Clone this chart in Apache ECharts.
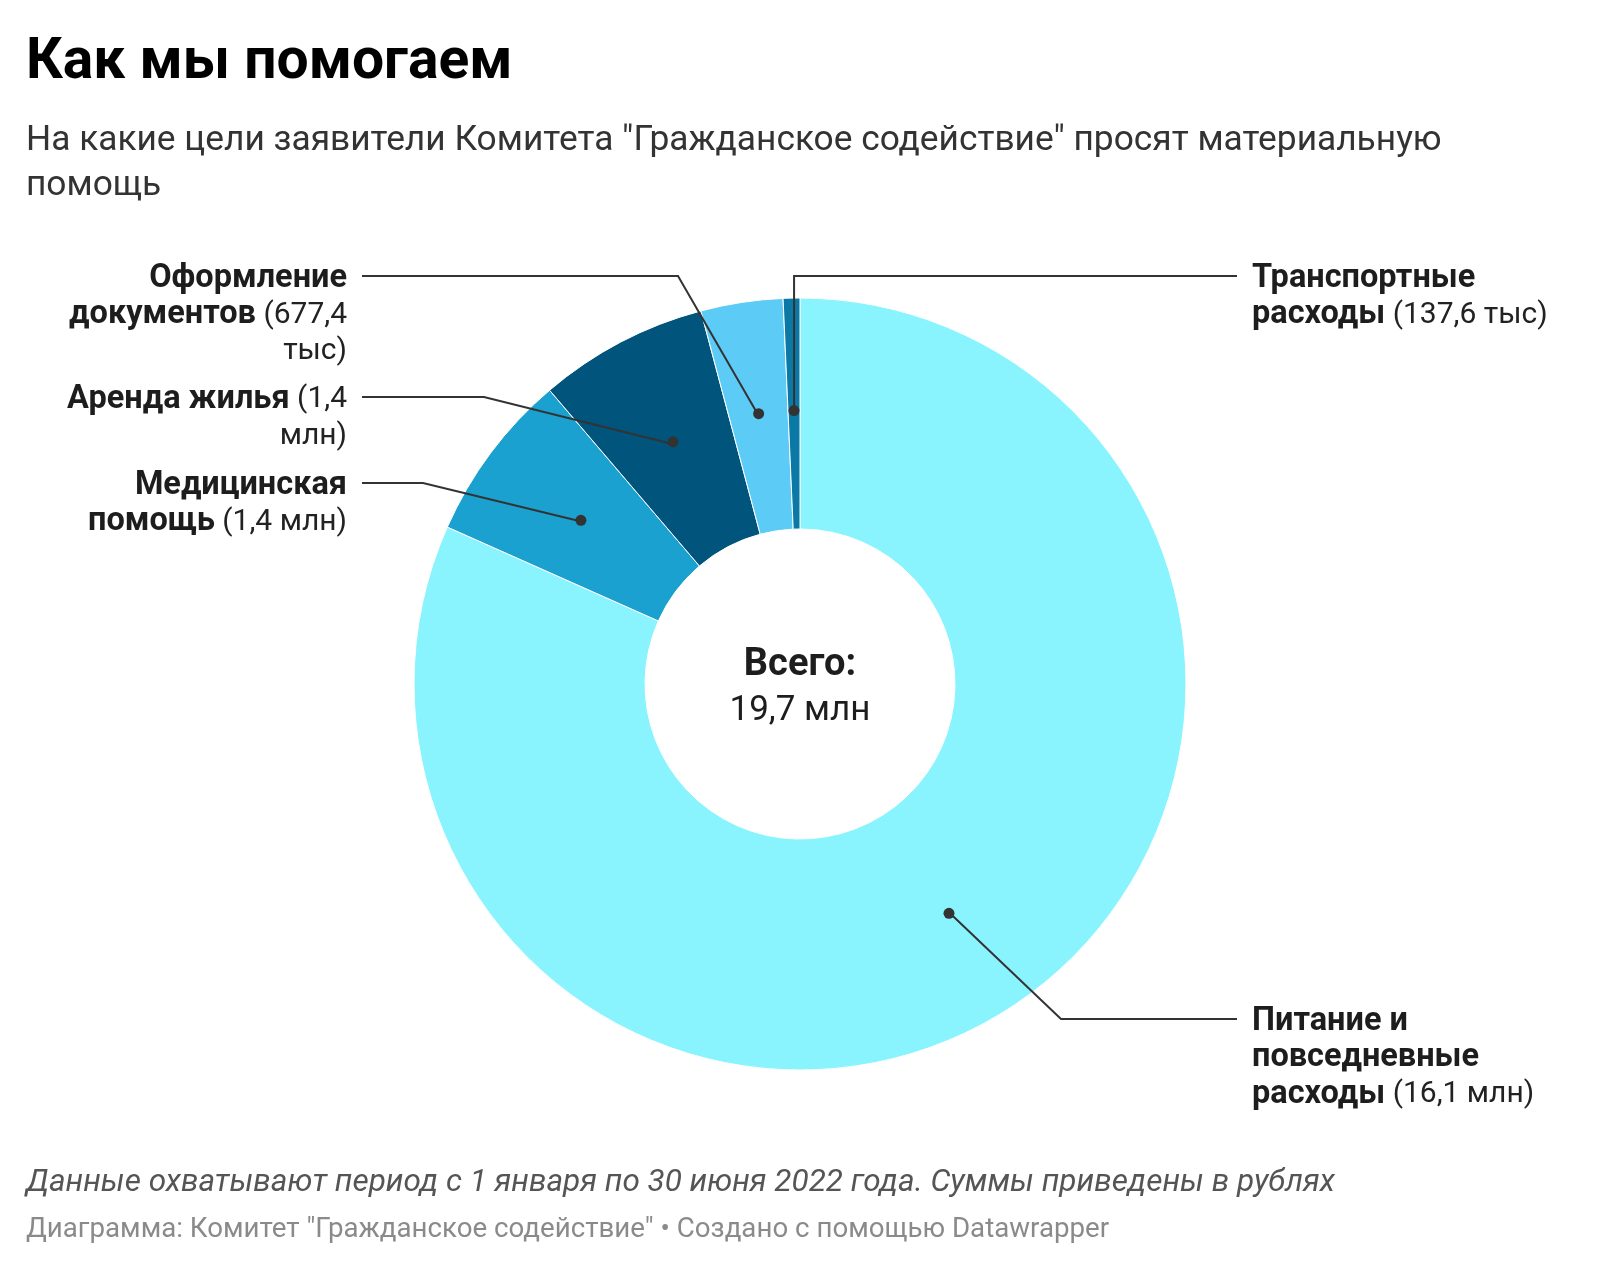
<!DOCTYPE html>
<html><head><meta charset="utf-8">
<script src="https://cdn.jsdelivr.net/npm/echarts@6/dist/echarts.min.js"></script>
<style>html,body{margin:0;padding:0;background:#fff}#c{width:1600px;height:1270px}</style>
</head><body><div id="c"></div>
<script>
// ---- data ----
const categories = ['Питание и повседневные расходы', 'Медицинская помощь', 'Аренда жилья', 'Оформление документов', 'Транспортные расходы'];
const values = [16100000, 1400000, 1400000, 677400, 137600];
const valueLabels = ['16,1 млн', '1,4 млн', '1,4 млн', '677,4 тыс', '137,6 тыс'];
const colors = ['#89f4fe', '#1aa1cf', '#01547b', '#5ccbf6', '#0a79a5'];

// ---- layout ----
const FONT = 'Roboto, "Noto Sans", sans-serif';
const CX = 800, CY = 684, R0 = 155, R1 = 386, RMID = (R0 + R1) / 2;
const LABEL_FS_B = 32.5, LABEL_FS_R = 30, LABEL_LH = 36.5, LABEL_DY = 2.5;
const labelLayoutCfg = [
  {side: 'right', y: 1019, elbow: [1061, 1019]},
  {side: 'left', y: 483, elbow: [423, 483]},
  {side: 'left', y: 397, elbow: [484, 397]},
  {side: 'left', y: 276, elbow: [678, 276]},
  {side: 'right', y: 276, elbow: 'vertical'}
];
const LEFT_TEXT_X = 347, RIGHT_TEXT_X = 1252, LEFT_LINE_END = 362, RIGHT_LINE_END = 1237;
const WRAP_W = {left: 310, right: 320};

const total = values.reduce((a, b) => a + b, 0);
const totalLabel = (total / 1e6).toFixed(1).replace('.', ',') + ' млн';

const labelRich = {
  b: {fontFamily: FONT, fontSize: LABEL_FS_B, fontWeight: 'bold', fill: '#1d1d1d', color: '#1d1d1d', lineHeight: LABEL_LH},
  v: {fontFamily: FONT, fontSize: LABEL_FS_R, fontWeight: 'normal', fill: '#222', color: '#222', lineHeight: LABEL_LH}
};

const measure = document.createElement('canvas').getContext('2d');
function wrapLabel(i) {
  const words = categories[i].split(' ').map(t => ({t, s: 'b'}))
    .concat(('(' + valueLabels[i] + ')').split(' ').map(t => ({t, s: 'v'})));
  const maxW = WRAP_W[labelLayoutCfg[i].side];
  const width = ws => {
    let w = 0;
    ws.forEach((x, k) => {
      measure.font = x.s === 'b' ? 'bold ' + LABEL_FS_B + 'px ' + FONT : LABEL_FS_R + 'px ' + FONT;
      w += measure.measureText((k ? ' ' : '') + x.t).width;
    });
    return w;
  };
  const lines = [];
  let cur = [];
  words.forEach(w => {
    if (cur.length && width(cur.concat([w])) > maxW) { lines.push(cur); cur = []; }
    cur.push(w);
  });
  if (cur.length) lines.push(cur);
  return lines.map(line => {
    const parts = [];
    line.forEach(w => {
      const last = parts[parts.length - 1];
      if (last && last.s === w.s) last.t += ' ' + w.t; else parts.push({t: w.t, s: w.s});
    });
    return parts.map(p => '{' + p.s + '|' + p.t + '}').join('{v| }');
  }).join('\n');
}

const cum = [];
values.reduce((acc, v, i) => { cum[i] = acc; return acc + v; }, 0);

const chart = echarts.init(document.getElementById('c'), null, {renderer: 'canvas'});
chart.setOption({
  animation: false,
  title: [
    {text: 'Как мы помогаем', left: 26, top: 35, padding: 0,
     textStyle: {fontFamily: FONT, fontSize: 57, fontWeight: 'bold', color: '#000'}},
    {text: 'На какие цели заявители Комитета "Гражданское содействие" просят материальную\nпомощь',
     left: 26, top: 119, padding: 0,
     textStyle: {fontFamily: FONT, fontSize: 35.3, fontWeight: 'normal', color: '#333', lineHeight: 45}},
    {text: '{a|Всего:}\n{b|' + totalLabel + '}', left: 'center', top: 642, padding: 0,
     textStyle: {rich: {
       a: {fontFamily: FONT, fontSize: 38, fontWeight: 'bold', color: '#1d1d1d', lineHeight: 46, align: 'center'},
       b: {fontFamily: FONT, fontSize: 35, fontWeight: 'normal', color: '#1d1d1d', lineHeight: 46, align: 'center'}}}},
    {text: 'Данные охватывают период с 1 января по 30 июня 2022 года. Суммы приведены в рублях',
     left: 26, top: 1167, padding: 0,
     textStyle: {fontFamily: FONT, fontSize: 31.5, fontStyle: 'italic', fontWeight: 'normal', color: '#555'}},
    {text: 'Диаграмма: Комитет "Гражданское содействие" • Создано с помощью Datawrapper',
     left: 26, top: 1216, padding: 0,
     textStyle: {fontFamily: FONT, fontSize: 27.7, fontWeight: 'normal', color: '#8a8a8a'}}
  ],
  series: [
    {
      type: 'pie', center: [CX, CY], radius: [R0, R1], startAngle: 90, clockwise: true,
      itemStyle: {borderColor: '#fff', borderWidth: 1},
      emphasis: {disabled: true},
      label: {show: false}, labelLine: {show: false},
      data: categories.map((c, i) => ({name: c, value: values[i], itemStyle: {color: colors[i]}}))
    },
    {
      type: 'pie', center: [CX, CY], radius: [R0, R1], startAngle: 90, clockwise: true,
      silent: true, z: 5,
      itemStyle: {color: 'rgba(0,0,0,0)', borderWidth: 0},
      emphasis: {disabled: true},
      data: categories.map((c, i) => ({name: c, value: values[i]})),
      label: {show: true, position: 'inside', formatter: '{d|}',
        rich: {d: {width: 11, height: 11, borderRadius: 5.5, backgroundColor: '#333'}}},
      labelLine: {show: false}
    },
    {
      type: 'custom', coordinateSystem: 'none', silent: true, z: 4,
      data: values,
      renderItem: function (params) {
        const i = params.dataIndex;
        const cfg = labelLayoutCfg[i];
        const th = 2 * Math.PI * (cum[i] + values[i] / 2) / total;
        const dx = CX + RMID * Math.sin(th), dy = CY - RMID * Math.cos(th);
        const elbow = cfg.elbow === 'vertical' ? [dx, cfg.y] : cfg.elbow;
        const left = cfg.side === 'left';
        return {
          type: 'group',
          children: [
            {type: 'polyline', shape: {points: [[dx, dy], elbow, [left ? LEFT_LINE_END : RIGHT_LINE_END, cfg.y]]},
             style: {stroke: '#333', lineWidth: 2, fill: null}},
            {type: 'text', style: {
              text: wrapLabel(i), x: left ? LEFT_TEXT_X : RIGHT_TEXT_X, y: cfg.y - LABEL_LH / 2 + LABEL_DY,
              align: left ? 'right' : 'left', verticalAlign: 'top', rich: labelRich,
              fontFamily: FONT, fontSize: LABEL_FS_B, lineHeight: LABEL_LH, fill: '#1d1d1d'}}
          ]
        };
      }
    }
  ]
});
</script></body></html>
